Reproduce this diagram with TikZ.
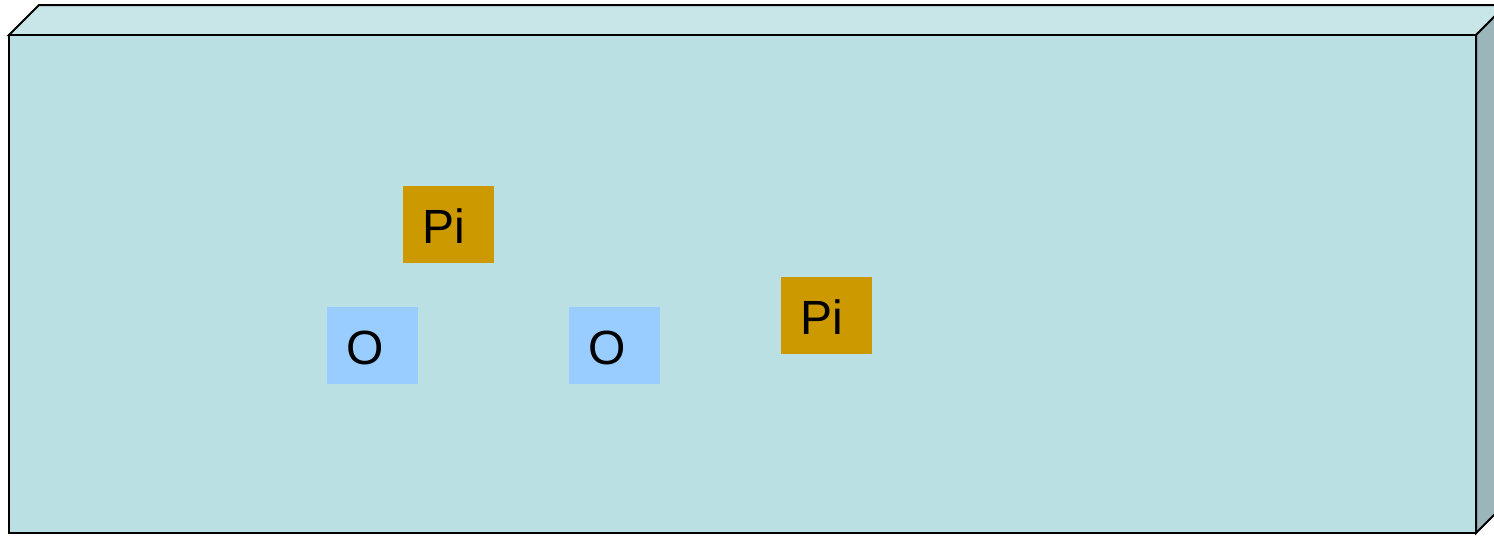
\documentclass[tikz,border=0pt]{standalone}
\usepackage{fontspec}
\setmainfont{Liberation Sans}
\definecolor{frontc}{HTML}{BAE0E3}
\definecolor{topc}{HTML}{C8E6E8}
\definecolor{sidec}{HTML}{9AB6BA}
\definecolor{pic}{HTML}{CC9900}
\definecolor{oc}{HTML}{99CCFF}
\tikzset{
  face/.style={draw=black, line width=2pt, line join=miter},
  atom/.style={minimum width=91pt, minimum height=77pt, inner sep=0pt, draw=none},
  lbl/.style={anchor=base west, inner sep=0pt, font=\fontsize{48}{56}\selectfont}
}
\begin{document}
\begin{tikzpicture}[x=1pt,y=-1pt]
\useasboundingbox (0,0) rectangle (1494,536);
\begin{scope}
\clip (0,0) rectangle (1494,536);
\filldraw[face, fill=topc] (9,35) -- (39,5) -- (1506,5) -- (1476,35) -- cycle;
\filldraw[face, fill=sidec] (1476,35) -- (1506,5) -- (1506,503) -- (1476,533) -- cycle;
\filldraw[face, fill=frontc] (9,35) rectangle (1476,533);
\end{scope}
\node[atom, fill=pic, anchor=north west] (pi1) at (403,186) {};
\node[atom, fill=oc, anchor=north west] (o1) at (327,307) {};
\node[atom, fill=oc, anchor=north west] (o2) at (569,307) {};
\node[atom, fill=pic, anchor=north west] (pi2) at (781,277) {};
\node[lbl] (tpi1) at (422,243) {Pi};
\node[lbl] (to1) at (346,364) {O};
\node[lbl] (to2) at (588,364) {O};
\node[lbl] (tpi2) at (800,334) {Pi};
\end{tikzpicture}
\end{document}
